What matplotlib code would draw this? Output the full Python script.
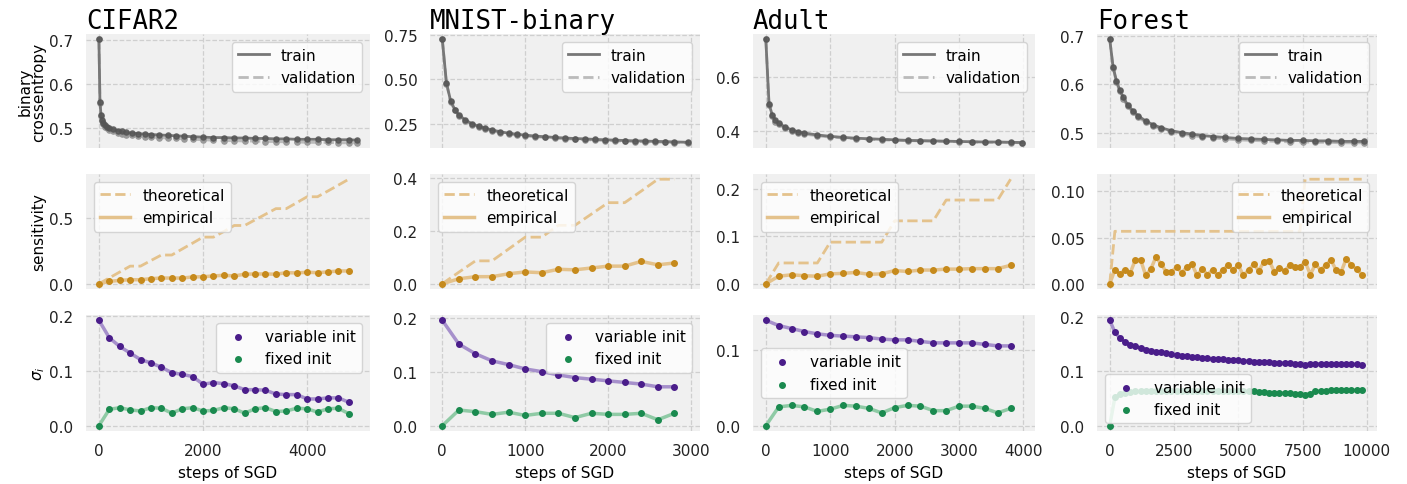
import matplotlib
matplotlib.use('Agg')
from matplotlib import pyplot as plt

# ---- data ----
titles = ['CIFAR2', 'MNIST-binary', 'Adult', 'Forest']

# row 1: binary crossentropy
cifar_loss_x = [0, 20, 40, 60, 80, 120, 160, 200, 280, 360, 440, 520, 640, 760, 880, 1000,
                1160, 1320, 1480, 1640, 1800, 2000, 2200, 2400, 2600, 2800, 3000, 3200,
                3400, 3600, 3800, 4000, 4200, 4400, 4600, 4800, 4960]
cifar_train = [0.703, 0.560, 0.530, 0.518, 0.512, 0.506, 0.503, 0.500, 0.497, 0.494, 0.492,
               0.490, 0.488, 0.487, 0.486, 0.485, 0.484, 0.483, 0.482, 0.481, 0.480, 0.479,
               0.478, 0.478, 0.477, 0.477, 0.476, 0.476, 0.475, 0.475, 0.474, 0.474, 0.474,
               0.473, 0.473, 0.473, 0.472]
cifar_val = [0.703, 0.558, 0.527, 0.515, 0.508, 0.502, 0.499, 0.496, 0.492, 0.489, 0.487,
             0.485, 0.483, 0.481, 0.480, 0.479, 0.478, 0.477, 0.476, 0.475, 0.474, 0.473,
             0.472, 0.471, 0.471, 0.470, 0.470, 0.469, 0.469, 0.468, 0.468, 0.467, 0.467,
             0.467, 0.466, 0.466, 0.466]

mnist_loss_x = [0, 50, 100, 150, 200, 280, 360, 440, 520, 600, 700, 800, 900, 1000, 1120,
                1240, 1360, 1480, 1600, 1720, 1840, 1960, 2080, 2200, 2320, 2440, 2560,
                2680, 2800, 2960]
mnist_train = [0.725, 0.480, 0.380, 0.330, 0.300, 0.270, 0.250, 0.235, 0.225, 0.215, 0.205,
               0.197, 0.191, 0.186, 0.181, 0.177, 0.173, 0.170, 0.167, 0.165, 0.162, 0.160,
               0.158, 0.156, 0.154, 0.153, 0.151, 0.150, 0.148, 0.146]
mnist_val = [0.725, 0.475, 0.375, 0.325, 0.295, 0.265, 0.245, 0.230, 0.220, 0.210, 0.200,
             0.192, 0.186, 0.181, 0.177, 0.173, 0.169, 0.166, 0.163, 0.161, 0.158, 0.156,
             0.154, 0.152, 0.150, 0.149, 0.147, 0.146, 0.144, 0.143]

adult_loss_x = [0, 50, 100, 150, 200, 300, 400, 500, 600, 800, 1000, 1200, 1400, 1600, 1800,
                2000, 2200, 2400, 2600, 2800, 3000, 3200, 3400, 3600, 3800, 3980]
adult_train = [0.740, 0.500, 0.460, 0.440, 0.430, 0.415, 0.405, 0.398, 0.393, 0.386, 0.381,
               0.377, 0.374, 0.372, 0.370, 0.368, 0.366, 0.365, 0.364, 0.363, 0.362, 0.361,
               0.360, 0.360, 0.359, 0.358]
adult_val = [0.740, 0.495, 0.455, 0.435, 0.425, 0.410, 0.400, 0.394, 0.389, 0.383, 0.378,
             0.375, 0.372, 0.370, 0.368, 0.366, 0.365, 0.364, 0.363, 0.362, 0.361, 0.360,
             0.359, 0.359, 0.358, 0.357]

forest_loss_x = [0, 130, 260, 390, 520, 700, 900, 1100, 1400, 1700, 2000, 2400, 2800, 3200,
                 3600, 4000, 4500, 5000, 5500, 6000, 6500, 7000, 7500, 8000, 8500, 9000,
                 9500, 9900]
forest_train = [0.693, 0.636, 0.607, 0.588, 0.573, 0.557, 0.545, 0.535, 0.524, 0.516, 0.510,
                0.504, 0.500, 0.497, 0.494, 0.492, 0.490, 0.488, 0.487, 0.486, 0.485, 0.484,
                0.484, 0.483, 0.483, 0.482, 0.482, 0.482]
forest_val = [0.693, 0.634, 0.604, 0.585, 0.570, 0.554, 0.542, 0.532, 0.521, 0.513, 0.507,
              0.501, 0.497, 0.494, 0.491, 0.489, 0.487, 0.485, 0.484, 0.483, 0.482, 0.481,
              0.481, 0.480, 0.480, 0.479, 0.479, 0.479]

# rows 2 and 3 are sampled every 200 steps
cifar_x = [0, 200, 400, 600, 800, 1000, 1200, 1400, 1600, 1800, 2000, 2200, 2400, 2600,
           2800, 3000, 3200, 3400, 3600, 3800, 4000, 4200, 4400, 4600, 4800]
mnist_x = [0, 200, 400, 600, 800, 1000, 1200, 1400, 1600, 1800, 2000, 2200, 2400, 2600, 2800]
adult_x = [0, 200, 400, 600, 800, 1000, 1200, 1400, 1600, 1800, 2000, 2200, 2400, 2600,
           2800, 3000, 3200, 3400, 3600, 3800]
forest_x = [0, 200, 400, 600, 800, 1000, 1200, 1400, 1600, 1800,
            2000, 2200, 2400, 2600, 2800, 3000, 3200, 3400, 3600, 3800,
            4000, 4200, 4400, 4600, 4800, 5000, 5200, 5400, 5600, 5800,
            6000, 6200, 6400, 6600, 6800, 7000, 7200, 7400, 7600, 7800,
            8000, 8200, 8400, 8600, 8800, 9000, 9200, 9400, 9600, 9800]

# row 2: sensitivity
cifar_theory = [0.000, 0.045, 0.090, 0.135, 0.135, 0.178, 0.220, 0.220, 0.266, 0.311, 0.357,
                0.357, 0.400, 0.446, 0.446, 0.489, 0.532, 0.575, 0.575, 0.620, 0.666, 0.666,
                0.710, 0.755, 0.800]
cifar_emp = [0.000, 0.018, 0.026, 0.031, 0.031, 0.039, 0.044, 0.044, 0.044, 0.052, 0.054,
             0.060, 0.065, 0.060, 0.073, 0.075, 0.075, 0.073, 0.085, 0.083, 0.088, 0.085,
             0.091, 0.098, 0.098]
mnist_theory = [0.000, 0.044, 0.087, 0.087, 0.132, 0.177, 0.177, 0.222, 0.222, 0.265, 0.308,
                0.308, 0.352, 0.397, 0.397]
mnist_emp = [0.000, 0.019, 0.027, 0.027, 0.038, 0.045, 0.042, 0.055, 0.053, 0.060, 0.067,
             0.067, 0.085, 0.072, 0.079]
adult_theory = [0.000, 0.044, 0.044, 0.044, 0.044, 0.088, 0.088, 0.088, 0.088, 0.088, 0.133,
                0.133, 0.133, 0.133, 0.177, 0.177, 0.177, 0.177, 0.177, 0.221]
adult_emp = [0.000, 0.016, 0.019, 0.017, 0.016, 0.021, 0.022, 0.024, 0.020, 0.021, 0.028,
             0.026, 0.029, 0.029, 0.031, 0.031, 0.032, 0.032, 0.032, 0.039]
forest_theory = [0.000, 0.0567, 0.0567, 0.0567, 0.0567, 0.0567, 0.0567, 0.0567, 0.0567, 0.0567,
                 0.0567, 0.0567, 0.0567, 0.0567, 0.0567, 0.0567, 0.0567, 0.0567, 0.0567, 0.0567,
                 0.0567, 0.0567, 0.0567, 0.0567, 0.0567, 0.0567, 0.0567, 0.0567, 0.0567, 0.0567,
                 0.0567, 0.0567, 0.0567, 0.0567, 0.0567, 0.0567, 0.0567, 0.0567, 0.1130, 0.1130,
                 0.1130, 0.1130, 0.1130, 0.1130, 0.1130, 0.1130, 0.1130, 0.1130, 0.1130, 0.1130]
forest_emp = [0.000, 0.015, 0.011, 0.015, 0.012, 0.026, 0.026, 0.009, 0.016, 0.029,
              0.021, 0.013, 0.013, 0.018, 0.012, 0.018, 0.021, 0.009, 0.016, 0.010,
              0.015, 0.009, 0.015, 0.020, 0.015, 0.020, 0.009, 0.015, 0.021, 0.014,
              0.024, 0.025, 0.013, 0.017, 0.014, 0.020, 0.018, 0.018, 0.024, 0.010,
              0.021, 0.015, 0.020, 0.026, 0.015, 0.013, 0.027, 0.020, 0.016, 0.010]

# row 3: sigma_i
cifar_var = [0.193, 0.161, 0.145, 0.133, 0.121, 0.115, 0.107, 0.097, 0.094, 0.090, 0.076,
             0.079, 0.077, 0.073, 0.066, 0.066, 0.065, 0.058, 0.057, 0.057, 0.049, 0.049,
             0.051, 0.051, 0.043]
cifar_fix = [0.000, 0.030, 0.033, 0.029, 0.027, 0.033, 0.032, 0.023, 0.031, 0.033, 0.027,
             0.028, 0.033, 0.031, 0.023, 0.031, 0.033, 0.026, 0.027, 0.032, 0.031, 0.025,
             0.031, 0.032, 0.022]
mnist_var = [0.195, 0.151, 0.133, 0.120, 0.113, 0.105, 0.100, 0.094, 0.089, 0.086, 0.083,
             0.080, 0.077, 0.072, 0.072]
mnist_fix = [0.000, 0.029, 0.026, 0.021, 0.025, 0.019, 0.023, 0.023, 0.015, 0.023, 0.021,
             0.021, 0.023, 0.011, 0.023]
adult_var = [0.140, 0.133, 0.129, 0.125, 0.122, 0.120, 0.119, 0.118, 0.117, 0.115, 0.114,
             0.114, 0.112, 0.110, 0.110, 0.110, 0.110, 0.108, 0.106, 0.106]
adult_fix = [0.000, 0.025, 0.027, 0.025, 0.019, 0.022, 0.027, 0.026, 0.023, 0.017, 0.024,
             0.027, 0.026, 0.020, 0.020, 0.026, 0.026, 0.023, 0.017, 0.023]
forest_var = [0.194, 0.172, 0.161, 0.154, 0.149, 0.146, 0.143, 0.140, 0.138, 0.136,
              0.135, 0.133, 0.132, 0.131, 0.129, 0.128, 0.127, 0.126, 0.125, 0.124,
              0.123, 0.122, 0.122, 0.121, 0.120, 0.120, 0.119, 0.119, 0.118, 0.118,
              0.117, 0.117, 0.116, 0.116, 0.115, 0.115, 0.114, 0.113, 0.112, 0.113,
              0.114, 0.114, 0.114, 0.114, 0.114, 0.114, 0.114, 0.113, 0.113, 0.112]
forest_fix = [0.000, 0.052, 0.058, 0.061, 0.062, 0.063, 0.063, 0.064, 0.064, 0.064,
              0.064, 0.064, 0.064, 0.064, 0.064, 0.064, 0.064, 0.063, 0.063, 0.063,
              0.063, 0.063, 0.063, 0.063, 0.063, 0.063, 0.063, 0.063, 0.063, 0.062,
              0.062, 0.061, 0.061, 0.060, 0.060, 0.060, 0.059, 0.059, 0.057, 0.059,
              0.063, 0.064, 0.064, 0.065, 0.065, 0.065, 0.065, 0.065, 0.065, 0.065]

loss_yticks = [[0.5, 0.6, 0.7], [0.25, 0.50, 0.75], [0.4, 0.6], [0.5, 0.6, 0.7]]
sens_yticks = [[0.0, 0.5], [0.0, 0.2, 0.4], [0.0, 0.1, 0.2], [0.0, 0.05, 0.10]]
sig_yticks = [[0.0, 0.1, 0.2], [0.0, 0.1, 0.2], [0.0, 0.1], [0.0, 0.1, 0.2]]
xtick_sets = [[0, 2000, 4000], [0, 1000, 2000, 3000], [0, 1000, 2000, 3000, 4000],
              [0, 2500, 5000, 7500, 10000]]
sens_legend_loc = ['upper left', 'upper left', 'upper left', 'upper right']
sig_legend_loc = ['upper right', 'upper right', 'center left', 'lower left']

columns = [
    (cifar_loss_x, cifar_train, cifar_val, cifar_x, cifar_theory, cifar_emp, cifar_var, cifar_fix),
    (mnist_loss_x, mnist_train, mnist_val, mnist_x, mnist_theory, mnist_emp, mnist_var, mnist_fix),
    (adult_loss_x, adult_train, adult_val, adult_x, adult_theory, adult_emp, adult_var, adult_fix),
    (forest_loss_x, forest_train, forest_val, forest_x, forest_theory, forest_emp, forest_var, forest_fix),
]

# ---- style ----
plt.rcParams['font.family'] = 'DejaVu Sans'
plt.rcParams['font.size'] = 11
plt.rcParams['legend.fontsize'] = 11

gold = '#c68a1c'
gold_light = '#e4c28c'
purple = '#4a1d8a'
purple_light = '#a690cb'
green = '#1a8a4f'
green_light = '#8fcaa5'

W, H = 1407, 485
col_px = [(86, 370), (430, 700), (753, 1035), (1097, 1377)]
row_px = [(35, 149), (175, 290), (316, 432)]

fig = plt.figure(figsize=(W / 100, H / 100), dpi=100)


def style(ax):
    ax.set_facecolor('#f0f0f0')
    for s in ax.spines.values():
        s.set_visible(False)
    ax.grid(True, linestyle='--', color='#cfcfcf', linewidth=0.9)
    ax.set_axisbelow(True)
    ax.tick_params(length=0, pad=9, colors='#222222')


for c, (lx, tr, va, x, th, em, vi, fi) in enumerate(columns):
    axes = []
    for r in range(3):
        x0, x1 = col_px[c]
        y0, y1 = row_px[r]
        ax = fig.add_axes([x0 / W, 1 - y1 / H, (x1 - x0) / W, (y1 - y0) / H])
        style(ax)
        axes.append(ax)
    a1, a2, a3 = axes
    a2.sharex(a1)
    a3.sharex(a1)

    # loss
    a1.plot(lx, va, '--', color='#bbbbbb', lw=2, label='validation', zorder=2)
    a1.scatter(lx, va, s=14, color='#999999', zorder=2)
    a1.plot(lx, tr, '-', color='#777777', lw=2, label='train', zorder=3)
    a1.scatter(lx, tr, s=14, color='#555555', alpha=0.8, zorder=3)
    h, l = a1.get_legend_handles_labels()
    a1.legend(h[::-1], l[::-1], loc='upper right')
    a1.set_yticks(loss_yticks[c])
    a1.set_title(titles[c], loc='left', family='DejaVu Sans Mono', fontsize=18.5, pad=4)

    # sensitivity
    a2.plot(x, th, '--', color=gold_light, lw=2, label='theoretical')
    a2.plot(x, em, '-', color=gold_light, lw=2.5, label='empirical')
    a2.scatter(x, em, s=16, color=gold, zorder=3)
    a2.legend(loc=sens_legend_loc[c])
    a2.set_yticks(sens_yticks[c])

    # sigma_i
    a3.plot(x, vi, '-', color=purple_light, lw=2.5)
    a3.plot(x, fi, '-', color=green_light, lw=2.5)
    a3.scatter(x, vi, s=16, color=purple, label='variable init', zorder=3)
    a3.scatter(x, fi, s=16, color=green, label='fixed init', zorder=3)
    a3.legend(loc=sig_legend_loc[c])
    a3.set_yticks(sig_yticks[c])
    a3.set_xticks(xtick_sets[c])
    a3.set_xlabel('steps of SGD', labelpad=5)

    a1.tick_params(labelbottom=False)
    a2.tick_params(labelbottom=False)

    if c == 0:
        a1.set_ylabel('binary\ncrossentropy', linespacing=0.9, labelpad=2)
        a2.set_ylabel('sensitivity', labelpad=2)
        a3.set_ylabel(r'$\sigma_i$', labelpad=2)

fig.savefig('out.png', dpi=100)
